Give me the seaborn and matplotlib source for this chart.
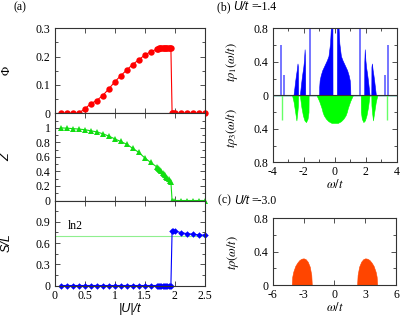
import numpy as np
import matplotlib
matplotlib.use('Agg')
import matplotlib.pyplot as plt
import seaborn as sns
from matplotlib.ticker import MultipleLocator, FuncFormatter

sns.set_theme(style='white')
plt.rcParams['font.family'] = ['Liberation Serif', 'DejaVu Serif']
plt.rcParams['mathtext.fontset'] = 'stix'
plt.rcParams['text.color'] = 'black'
plt.rcParams['axes.labelcolor'] = 'black'

# ---------------- data: panel (a) ----------------
U = [0.1, 0.2, 0.3, 0.4, 0.5, 0.6, 0.7, 0.8, 0.9, 1.0, 1.1, 1.2, 1.3, 1.4, 1.5, 1.6,
     1.70, 1.72, 1.74, 1.76, 1.78, 1.80, 1.82, 1.84, 1.86, 1.88, 1.90, 1.92, 1.94,
     1.96, 1.98, 2.0, 2.1, 2.2, 2.3, 2.4, 2.5]
phi = [0, 0, 0, 0, 0.015, 0.033, 0.045, 0.062, 0.085, 0.110, 0.132, 0.152, 0.172, 0.188, 0.205, 0.217,
       0.226, 0.228, 0.229, 0.230, 0.231, 0.232, 0.232, 0.232, 0.232, 0.231, 0.231, 0.230, 0.229,
       0, 0, 0, 0, 0, 0, 0, 0]
Z = [1.0, 0.995, 0.99, 0.983, 0.975, 0.96, 0.945, 0.92, 0.888, 0.85, 0.813, 0.776, 0.72, 0.665, 0.59, 0.525,
     0.465, 0.45, 0.435, 0.42, 0.40, 0.385, 0.365, 0.35, 0.33, 0.31, 0.29, 0.275, 0.255,
     0, 0, 0, 0, 0, 0, 0, 0]
SL = [0, 0, 0, 0, 0, 0, 0, 0, 0, 0, 0, 0, 0, 0, 0, 0,
      0, 0, 0, 0, 0, 0, 0, 0, 0, 0, 0, 0, 0,
      0.775, 0.772, 0.770, 0.748, 0.733, 0.725, 0.715, 0.710]
LN2 = 0.6931

# ---------------- data: panel (b) U/t=-1.4 ----------------
w1 = [-4.0,
      -2.66, -2.60, -2.55, -2.50, -2.45, -2.40, -2.37, -2.36,
      -2.25, -2.18, -2.13, -2.08, -2.03, -1.98, -1.94, -1.91, -1.90,
      -1.01, -1.00, -0.97, -0.90, -0.80, -0.70, -0.60, -0.50, -0.40, -0.30, -0.25, -0.20, -0.15, -0.14,
      0.14, 0.15, 0.20, 0.25, 0.30, 0.40, 0.50, 0.60, 0.70, 0.80, 0.90, 0.97, 1.00, 1.01,
      1.90, 1.91, 1.94, 1.98, 2.03, 2.08, 2.13, 2.18, 2.25,
      2.36, 2.37, 2.40, 2.45, 2.50, 2.55, 2.60, 2.66,
      4.0]
r1 = [0,
      0, 0.09, 0.17, 0.24, 0.30, 0.38, 0.34, 0,
      0, 0.12, 0.20, 0.27, 0.33, 0.42, 0.55, 0.40, 0,
      0, 0.10, 0.18, 0.24, 0.30, 0.34, 0.38, 0.42, 0.47, 0.62, 0.80, 1.0, 1.0, 0,
      0, 1.0, 1.0, 0.80, 0.62, 0.47, 0.42, 0.38, 0.34, 0.30, 0.24, 0.18, 0.10, 0,
      0, 0.40, 0.55, 0.42, 0.33, 0.27, 0.20, 0.12, 0,
      0, 0.34, 0.38, 0.30, 0.24, 0.17, 0.09, 0,
      0]
spike1_w = [-3.46, -3.27, -1.61, 1.61, 3.27, 3.46]
spike1_h = [0.60, 0.24, 1.0, 1.0, 0.24, 0.60]

w3 = [-4.0,
      -2.75, -2.65, -2.55, -2.47, -2.42, -2.37, -2.36,
      -2.25, -2.15, -2.05, -1.95, -1.85, -1.75, -1.69, -1.68,
      -1.17, -1.00, -0.85, -0.78, -0.70, -0.56, -0.40, -0.20, 0.0, 0.20, 0.40, 0.56, 0.70, 0.78, 0.85, 1.00, 1.17,
      1.68, 1.69, 1.75, 1.85, 1.95, 2.05, 2.15, 2.25,
      2.36, 2.37, 2.42, 2.47, 2.55, 2.65, 2.75,
      4.0]
r3 = [0,
      0, 0.08, 0.20, 0.30, 0.22, 0.12, 0,
      0, 0.14, 0.24, 0.30, 0.32, 0.28, 0.20, 0,
      0, 0.07, 0.15, 0.20, 0.24, 0.28, 0.31, 0.33, 0.33, 0.33, 0.31, 0.28, 0.24, 0.20, 0.15, 0.07, 0,
      0, 0.20, 0.28, 0.32, 0.30, 0.24, 0.14, 0,
      0, 0.12, 0.22, 0.30, 0.20, 0.08, 0,
      0]
spike3_w = [-3.38, 3.38]
spike3_h = [0.30, 0.30]

# ---------------- data: panel (c) U/t=-3.0 ----------------
wc = [-6.0,
      -4.15, -4.10, -4.00, -3.80, -3.60, -3.40, -3.20, -3.00, -2.80, -2.60, -2.40, -2.25, -2.20,
      2.20, 2.25, 2.40, 2.60, 2.80, 3.00, 3.20, 3.40, 3.60, 3.80, 4.00, 4.10, 4.15,
      6.0]
rc = [0,
      0, 0.10, 0.16, 0.23, 0.27, 0.30, 0.315, 0.32, 0.31, 0.28, 0.22, 0.12, 0,
      0, 0.12, 0.22, 0.28, 0.31, 0.32, 0.315, 0.30, 0.27, 0.23, 0.16, 0.10, 0,
      0]

# ---------------- figure ----------------
W, H = 409, 324
fig = plt.figure(figsize=(W / 100, H / 100), dpi=100)
fig.patch.set_facecolor('white')


def px_axes(l, t, r, b):
    return fig.add_axes([l / W, (H - b) / H, (r - l) / W, (b - t) / H])


TICKFS = 8.5
SANS_IT = dict(family=['Liberation Sans', 'DejaVu Sans'], style='italic')
fmt = FuncFormatter(lambda v, p: ('%g' % round(v, 6)))
fmt_abs = FuncFormatter(lambda v, p: ('%g' % abs(round(v, 6))))


def style(ax):
    ax.set_facecolor('white')
    for s in ax.spines.values():
        s.set_color('#333333')
        s.set_linewidth(0.8)
    ax.tick_params(which='both', direction='in', top=True, right=True,
                   bottom=True, left=True, colors='#333333', labelcolor='black',
                   labelsize=TICKFS, width=0.6, pad=3)
    ax.tick_params(which='major', length=3.5)
    ax.tick_params(which='minor', length=2)
    ax.grid(False)


ax1 = px_axes(54.5, 28.3, 204.5, 113.3)
ax2 = px_axes(54.5, 113.3, 204.5, 200.5)
ax3 = px_axes(54.5, 200.5, 204.5, 285.5)

df = {'U': U, 'phi': phi, 'Z': Z, 'SL': SL}
sns.lineplot(x='U', y='phi', data=df, ax=ax1, color='#ff0000', lw=0.8,
             marker='o', markersize=4.6, markeredgewidth=0, clip_on=False)
sns.lineplot(x='U', y='Z', data=df, ax=ax2, color='#11dd11', lw=0.8,
             marker='^', markersize=4.6, markeredgewidth=0, clip_on=False)
sns.lineplot(x='U', y='SL', data=df, ax=ax3, color='#0000ff', lw=0.8,
             marker='D', markersize=3.3, markeredgewidth=0, clip_on=False)
ax3.axhline(LN2, color='#8fef8f', lw=0.8, zorder=1)
ax3.text(0.22, 0.84, 'ln2', fontsize=8.5, va='center', ha='left')

for ax in (ax1, ax2, ax3):
    style(ax)
    ax.set_xlim(0, 2.5)
    ax.xaxis.set_major_locator(MultipleLocator(0.5))
    ax.xaxis.set_major_formatter(fmt)
    ax.yaxis.set_major_formatter(fmt)
    ax.set_xlabel('')
    if ax is not ax3:
        ax.tick_params(labelbottom=False)

ax1.set_ylim(0, 0.3)
ax1.yaxis.set_major_locator(MultipleLocator(0.1))
ax1.yaxis.set_minor_locator(MultipleLocator(0.05))
ax2.set_ylim(0, 1.2)
ax2.set_yticks([0, 0.2, 0.4, 0.6, 0.8, 1.0])
ax2.yaxis.set_minor_locator(MultipleLocator(0.1))
ax3.set_ylim(0, 1.2)
ax3.set_yticks([0, 0.3, 0.6, 0.9])
ax3.yaxis.set_minor_locator(MultipleLocator(0.15))

ax1.set_ylabel('Φ', fontsize=9)
ax2.set_ylabel('Z', fontsize=9, **SANS_IT)
ax3.set_ylabel('S/L', fontsize=9, **SANS_IT)
for ax in (ax1, ax2, ax3):
    ax.yaxis.set_label_coords(-0.28, 0.5)
ax3.set_xlabel('|U|/t', fontsize=9, labelpad=1, **SANS_IT)

# panel (b)
axb = px_axes(272.7, 28.3, 396.7, 162.3)
axb.fill_between(w1, 0, r1, color='#0000ff', lw=0.4, edgecolor='#0000ff')
axb.vlines(spike1_w, 0, spike1_h, color='#5050ff', lw=1.1)
axb.fill_between(w3, 0, -np.asarray(r3), color='#00ff00', lw=0.4, edgecolor='#00ff00')
axb.vlines(spike3_w, 0, -np.asarray(spike3_h), color='#66ff66', lw=1.0)
axb.axhline(0, color='#333333', lw=0.8)
style(axb)
axb.set_xlim(-4, 4)
axb.set_ylim(-0.8, 0.8)
axb.xaxis.set_major_locator(MultipleLocator(2))
axb.xaxis.set_minor_locator(MultipleLocator(1))
axb.yaxis.set_major_locator(MultipleLocator(0.4))
axb.yaxis.set_minor_locator(MultipleLocator(0.2))
axb.xaxis.set_major_formatter(fmt)
axb.yaxis.set_major_formatter(fmt_abs)
axb.set_xlabel(r'$\omega/t$', fontsize=9, labelpad=0)

# panel (c)
axc = px_axes(272.7, 218.3, 396.2, 285.0)
axc.fill_between(wc, 0, rc, color='#ff4500', lw=0.4, edgecolor='#ff4500')
style(axc)
axc.set_xlim(-6, 6)
axc.set_ylim(0, 0.8)
axc.xaxis.set_major_locator(MultipleLocator(3))
axc.yaxis.set_major_locator(MultipleLocator(0.4))
axc.yaxis.set_minor_locator(MultipleLocator(0.2))
axc.xaxis.set_major_formatter(fmt)
axc.yaxis.set_major_formatter(fmt)
axc.set_xlabel(r'$\omega/t$', fontsize=9, labelpad=0)


def ftext(x, y, s, **kw):
    return fig.text(x / W, (H - y) / H, s, **kw)


ftext(232, 62, r'$t\rho_1(\omega/t)$', rotation=90, ha='center', va='center', fontsize=9)
ftext(232, 128, r'$t\rho_3(\omega/t)$', rotation=90, ha='center', va='center', fontsize=9)
ftext(233, 252, r'$t\rho(\omega/t)$', rotation=90, ha='center', va='center', fontsize=9)

ftext(13, 7.5, '(a)', ha='left', va='center', fontsize=8.5)

renderer = fig.canvas.get_renderer()


def title_parts(x, y, parts):
    for s, kw, gap in parts:
        t = ftext(x, y, s, ha='left', va='center', fontsize=8.5, **kw)
        x += t.get_window_extent(renderer).width + gap


title_parts(217, 7.5, [('(b) ', {}, 0), ('U/t', SANS_IT, 3), ('=-1.4', {}, 0)])
title_parts(218, 200.5, [('(c) ', {}, 0), ('U/t', SANS_IT, 3), ('=-3.0', {}, 0)])

fig.savefig('out.png', dpi=100, facecolor='white')
